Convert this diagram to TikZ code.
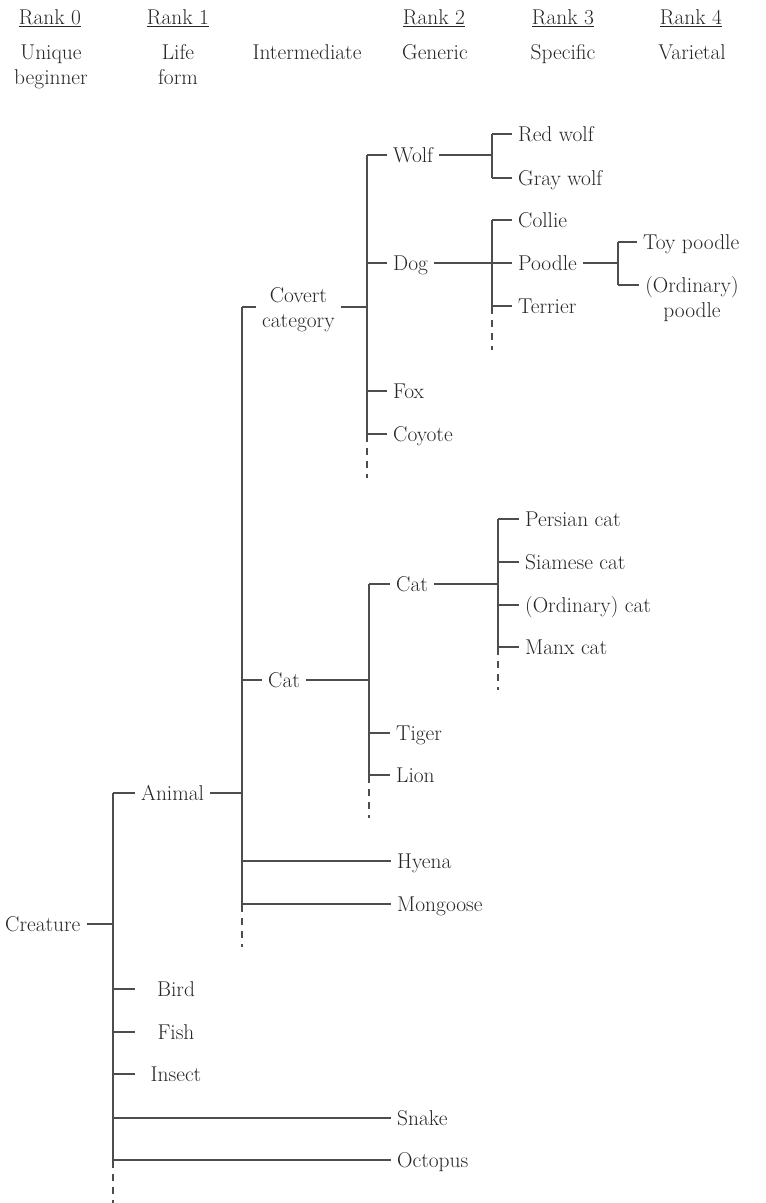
\documentclass[tikz,border=0pt]{standalone}
\usepackage{graphicx}
\definecolor{txt}{HTML}{262626}
\definecolor{lnc}{HTML}{4d4d4d}
\tikzset{
  lbl/.style={font=\fontsize{21.5}{25.5}\selectfont, text=txt, text height=14.5bp, text depth=0pt, inner xsep=6bp, inner ysep=0pt, anchor=west},
  hdr/.style={lbl, anchor=center, align=center},
  ctr/.style={lbl, anchor=center},
  ln/.style={draw=lnc, line width=1.5bp},
  dsh/.style={draw=lnc, line width=1.5bp, dash pattern=on 7bp off 6bp, dash phase=7bp}
}
\begin{document}
\begin{tikzpicture}[x=1bp,y=-1bp]
\useasboundingbox (0,0) rectangle (766,1203);
% header
\node[hdr] (r0) at (50,16.75) {\underline{Rank 0}};
\node[hdr] (r1) at (178,16.75) {\underline{Rank 1}};
\node[hdr] (r2) at (434,16.75) {\underline{Rank 2}};
\node[hdr] (r3) at (563,16.75) {\underline{Rank 3}};
\node[hdr] (r4) at (691,16.75) {\underline{Rank 4}};
\node[hdr] (h0) at (51,77.25) {Unique\\beginner};
\node[hdr] (h1) at (178,77.25) {Life\\form};
\node[hdr] (hi) at (307,51.75) {Intermediate};
\node[hdr] (h2) at (435,51.75) {Generic};
\node[hdr] (h3) at (563,51.75) {Specific};
\node[hdr] (h4) at (692,51.75) {Varietal};

% bar coordinates
\coordinate (b0t) at (113,793); \coordinate (b0c) at (113,924); \coordinate (b0b) at (113,1160); \coordinate (b0s) at (113,1168); \coordinate (b0e) at (113,1203);
\coordinate (b1t) at (242,307); \coordinate (b1c) at (242,680); \coordinate (b1h) at (242,861); \coordinate (b1b) at (242,904); \coordinate (b1s) at (242,912); \coordinate (b1e) at (242,947);
\coordinate (b2at) at (367,155); \coordinate (b2ad) at (367,263); \coordinate (b2ac) at (367,307); \coordinate (b2af) at (367,391); \coordinate (b2ab) at (367,434); \coordinate (b2as) at (367,442); \coordinate (b2ae) at (367,478);
\coordinate (b3at) at (492,134); \coordinate (b3am) at (492,155); \coordinate (b3ab) at (492,178);
\coordinate (b3bt) at (492,220); \coordinate (b3bm) at (492,263); \coordinate (b3bb) at (492,306); \coordinate (b3bs) at (492,314); \coordinate (b3be) at (492,350);
\coordinate (b4t) at (618,242); \coordinate (b4m) at (618,263); \coordinate (b4b) at (618,285);
\coordinate (b2bt) at (369,584); \coordinate (b2bc) at (369,680); \coordinate (b2bg) at (369,733); \coordinate (b2bb) at (369,775); \coordinate (b2bs) at (369,783); \coordinate (b2be) at (369,818);
\coordinate (b3ct) at (498,519); \coordinate (b3cs) at (498,562); \coordinate (b3co) at (498,605); \coordinate (b3cb) at (498,647); \coordinate (b3cx) at (498,655); \coordinate (b3ce) at (498,690);
\coordinate (b0bi) at (113,989); \coordinate (b0fi) at (113,1032); \coordinate (b0in) at (113,1074); \coordinate (b0sn) at (113,1118);

% vertical bars
\draw[ln] (b0t) -- (b0s); \draw[dsh] (b0s) -- (b0e);
\draw[ln] (b1t) -- (b1s); \draw[dsh] (b1s) -- (b1e);
\draw[ln] (b2at) -- (b2as); \draw[dsh] (b2as) -- (b2ae);
\draw[ln] (b3at) -- (b3ab);
\draw[ln] (b3bt) -- (b3bs); \draw[dsh] (b3bs) -- (b3be);
\draw[ln] (b4t) -- (b4b);
\draw[ln] (b2bt) -- (b2bs); \draw[dsh] (b2bs) -- (b2be);
\draw[ln] (b3ct) -- (b3cx); \draw[dsh] (b3cx) -- (b3ce);

% rank 0 / life forms
\node[lbl] (creature) at (-1,924) {Creature};
\draw[ln] (creature.east) -- (b0c);
\node[lbl] (animal) at (135,793) {Animal};
\draw[ln] (b0t) -- (animal.west);
\draw[ln] (animal.east) -- (animal.east -| b1t);
\node[ctr] (bird) at (176,989) {Bird};
\node[ctr] (fish) at (176,1032) {Fish};
\node[ctr] (insect) at (176,1074) {Insect};
\draw[ln] (b0bi) -- ++(22,0);
\draw[ln] (b0fi) -- ++(22,0);
\draw[ln] (b0in) -- ++(22,0);
\node[lbl] (snake) at (391,1118) {Snake};
\node[lbl] (octopus) at (391,1160) {Octopus};
\draw[ln] (b0sn) -- (snake.west);
\draw[ln] (b0b) -- (octopus.west);

% intermediate
\node[lbl, align=center] (covert) at (256,320.5) {Covert\\category};
\draw[ln] (b1t) -- (b1t -| covert.west);
\draw[ln] (covert.east |- b2ac) -- (b2ac);
\node[lbl] (catI) at (262,680) {Cat};
\draw[ln] (b1c) -- (catI.west);
\draw[ln] (catI.east) -- (b2bc);
\node[lbl] (hyena) at (391,861) {Hyena};
\node[lbl] (mongoose) at (391,904) {Mongoose};
\draw[ln] (b1h) -- (hyena.west);
\draw[ln] (b1b) -- (mongoose.west);

% generic under covert category
\node[lbl] (wolf) at (387,155) {Wolf};
\node[lbl] (dog) at (387,263) {Dog};
\node[lbl] (fox) at (387,391) {Fox};
\node[lbl] (coyote) at (387,434) {Coyote};
\draw[ln] (b2at) -- (wolf.west);
\draw[ln] (b2ad) -- (dog.west);
\draw[ln] (b2af) -- (fox.west);
\draw[ln] (b2ab) -- (coyote.west);
\draw[ln] (wolf.east) -- (b3am);
\node[lbl] (redwolf) at (512,134) {Red wolf};
\node[lbl] (graywolf) at (512,178) {Gray wolf};
\draw[ln] (b3at) -- (redwolf.west);
\draw[ln] (b3ab) -- (graywolf.west);
\draw[ln] (dog.east) -- (b3bm);
\node[lbl] (collie) at (512,220) {Collie};
\node[lbl] (poodle) at (512,263) {Poodle};
\node[lbl] (terrier) at (512,306) {Terrier};
\draw[ln] (b3bt) -- (collie.west);
\draw[ln] (b3bm) -- (poodle.west);
\draw[ln] (b3bb) -- (terrier.west);
\draw[ln] (poodle.east) -- (b4m);
\node[lbl] (toypoodle) at (637,242) {Toy poodle};
\node[ctr, align=center] (ordpoodle) at (692,310.5) {(Ordinary)\\poodle};
\draw[ln] (b4t) -- (toypoodle.west);
\draw[ln] (b4b) -- (b4b -| ordpoodle.west);

% generic under cat
\node[lbl] (catG) at (390,584) {Cat};
\node[lbl] (tiger) at (390,733) {Tiger};
\node[lbl] (lion) at (390,775) {Lion};
\draw[ln] (b2bt) -- (catG.west);
\draw[ln] (b2bg) -- (tiger.west);
\draw[ln] (b2bb) -- (lion.west);
\draw[ln] (catG.east) -- (catG.east -| b3ct);
\node[lbl] (persian) at (519,519) {Persian cat};
\node[lbl] (siamese) at (519,562) {Siamese cat};
\node[lbl] (ordcat) at (519,605) {(Ordinary) cat};
\node[lbl] (manx) at (519,647) {Manx cat};
\draw[ln] (b3ct) -- (persian.west);
\draw[ln] (b3cs) -- (siamese.west);
\draw[ln] (b3co) -- (ordcat.west);
\draw[ln] (b3cb) -- (manx.west);
\end{tikzpicture}
\end{document}
